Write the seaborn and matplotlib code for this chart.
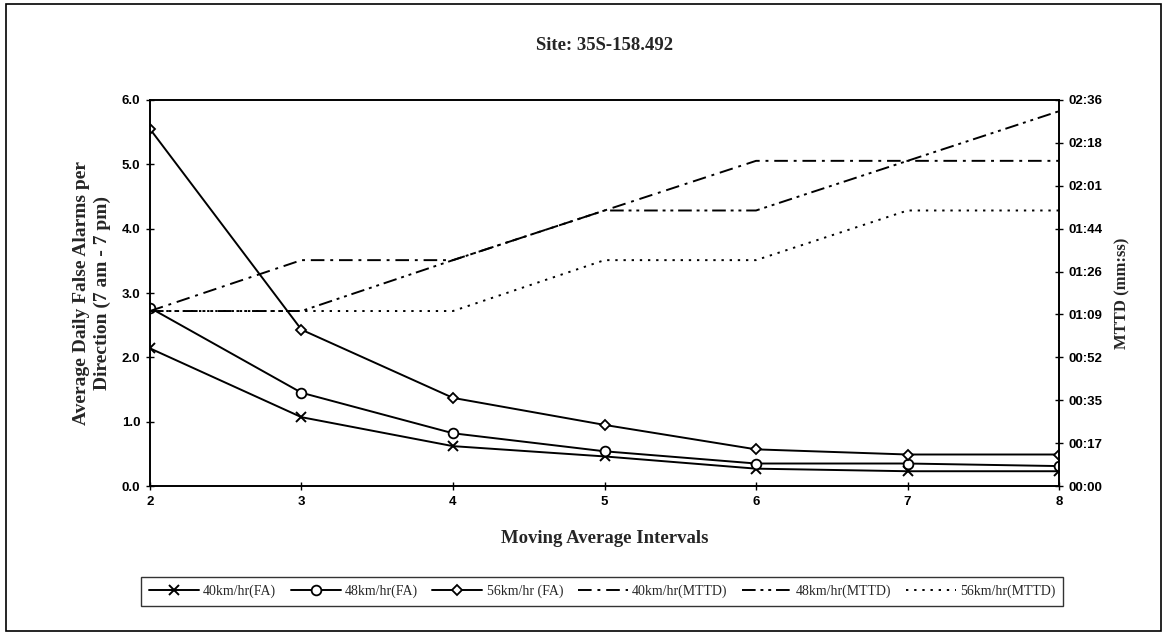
import numpy as np
import pandas as pd
import matplotlib
matplotlib.use("Agg")
import matplotlib.pyplot as plt
from matplotlib.patches import Rectangle
import seaborn as sns

# values
intervals = [2, 3, 4, 5, 6, 7, 8]

fa_40 = [2.14, 1.07, 0.62, 0.46, 0.27, 0.23, 0.23]
fa_48 = [2.77, 1.45, 0.82, 0.54, 0.35, 0.35, 0.31]
fa_56 = [5.55, 2.43, 1.37, 0.95, 0.57, 0.49, 0.49]

# MTTD in seconds
mttd_40 = [70.5, 91, 91, 111, 131, 131, 131]
mttd_48 = [70.5, 70.5, 91, 111, 111, 131, 151]
mttd_56 = [70.5, 70.5, 70.5, 91, 91, 111, 111]

left_ticks = [0.0, 1.0, 2.0, 3.0, 4.0, 5.0, 6.0]
right_tick_labels = ["00:00", "00:17", "00:35", "00:52", "01:09",
                     "01:26", "01:44", "02:01", "02:18", "02:36"]

sns.set_theme(style="white")
plt.rcParams["font.family"] = ["Liberation Serif", "DejaVu Serif"]

fig = plt.figure(figsize=(11.67, 6.36), dpi=100)
ax = fig.add_axes([0.1285, 0.2358, 0.779, 0.607])
ax2 = ax.twinx()

fa_series = [
    (fa_40, "40km/hr(FA)", dict(marker="x", markersize=7, markeredgewidth=1.4)),
    (fa_48, "48km/hr(FA)", dict(marker="o", markersize=7, markerfacecolor="white",
                                markeredgewidth=1.3)),
    (fa_56, "56km/hr (FA)", dict(marker="D", markersize=5, markerfacecolor="white",
                                 markeredgewidth=1.3)),
]
for vals, lab, kw in fa_series:
    sns.lineplot(x=intervals, y=vals, ax=ax, color="black", linewidth=1.4,
                 markeredgecolor="black", label=lab, **kw)

mttd_series = [
    (mttd_40, "40km/hr(MTTD)", (0, (7, 3, 1.5, 3))),
    (mttd_48, "48km/hr(MTTD)", (0, (7, 2.5, 1.5, 2.5, 1.5, 2.5))),
    (mttd_56, "56km/hr(MTTD)", (0, (1.2, 3))),
]
for vals, lab, ls in mttd_series:
    sns.lineplot(x=intervals, y=vals, ax=ax2, color="black", linewidth=1.4,
                 linestyle=ls, label=lab)

h1, l1 = ax.get_legend_handles_labels()
h2, l2 = ax2.get_legend_handles_labels()
for a in (ax, ax2):
    if a.get_legend() is not None:
        a.get_legend().remove()

# left axis
ax.set_xlim(2, 8)
ax.set_ylim(0, 6)
ax.set_xticks(intervals)
ax.set_yticks(left_ticks)
ax.set_yticklabels([f"{v:.1f}" for v in left_ticks])
ax.tick_params(axis="both", direction="inout", length=6, width=1, colors="black",
               labelsize=9.5, left=True, bottom=True, pad=4)
for t in ax.get_xticklabels() + ax.get_yticklabels():
    t.set_fontfamily("Liberation Sans")
    t.set_fontweight("bold")

# right axis
right_ticks = [i * 17.28 for i in range(len(right_tick_labels))]
ax2.set_ylim(0, right_ticks[-1])
ax2.set_yticks(right_ticks)
ax2.set_yticklabels(right_tick_labels)
ax2.tick_params(axis="y", direction="inout", length=6, width=1, colors="black",
                labelsize=9.5, right=True, pad=4)
for t in ax2.get_yticklabels():
    t.set_fontfamily("Liberation Sans")
    t.set_fontweight("bold")

for a in (ax, ax2):
    for s in a.spines.values():
        s.set_visible(True)
        s.set_color("black")
        s.set_linewidth(1.2)

ax.set_xlabel("Moving Average Intervals", fontsize=13.5, fontweight="bold", labelpad=16)
ax.set_ylabel("Average Daily False Alarms per\nDirection (7 am - 7 pm)",
              fontsize=14, fontweight="bold", labelpad=8, linespacing=1.25)
ax2.set_ylabel("MTTD (mm:ss)", fontsize=12, fontweight="bold", labelpad=8)
fig.text(0.518, 0.928, "Site: 35S-158.492", ha="center", va="center",
         fontsize=13.5, fontweight="bold")

fig.legend(h1 + h2, l1 + l2, loc="center", bbox_to_anchor=(0.516, 0.07), ncol=6,
           frameon=True, fancybox=False, edgecolor="black", fontsize=10,
           handlelength=3.6, columnspacing=1.05, handletextpad=0.3,
           borderpad=0.55)
leg = fig.legends[0]
leg.get_frame().set_linewidth(1.0)

fig.patches.append(Rectangle((0.005, 0.008), 0.99, 0.985, transform=fig.transFigure,
                             fill=False, edgecolor="black", linewidth=1.2))

fig.savefig("out.png", dpi=100, facecolor="white")
